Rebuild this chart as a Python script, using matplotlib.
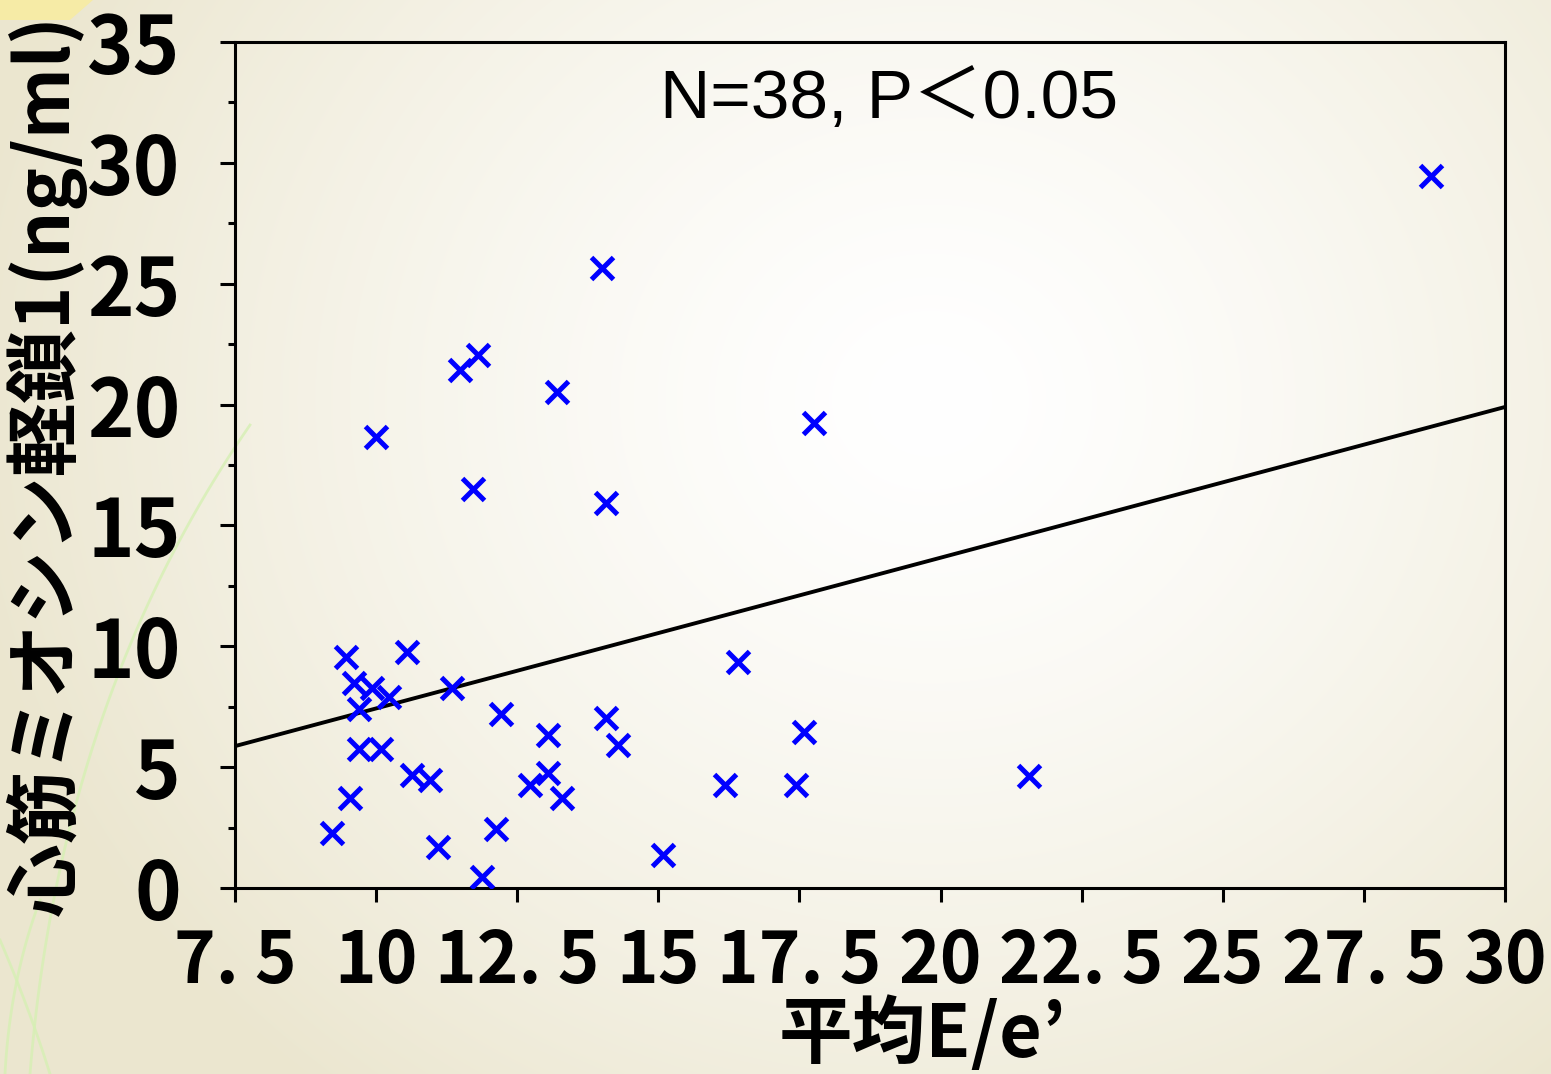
import numpy as np
import matplotlib
matplotlib.use("Agg")
import matplotlib.pyplot as plt
from matplotlib.ticker import FixedLocator, FixedFormatter, MultipleLocator

# mean E/e' vs cardiac myosin light chain 1 (ng/ml), N=38
ee_ratio = [9.22, 9.54, 9.46, 10.55, 9.60, 9.93, 10.23, 9.70, 11.34, 12.21,
            9.70, 10.09, 10.63, 10.96, 11.10, 12.12, 11.88, 12.73, 13.05, 13.30,
            14.29, 13.05, 15.09, 14.00, 11.81, 11.49, 13.21, 11.72, 14.07, 10.00,
            14.08, 16.41, 17.76, 16.18, 17.44, 17.58, 21.57, 28.69]
mlc1 = [2.26, 3.71, 9.57, 9.75, 8.47, 8.26, 7.89, 7.39, 8.26, 7.19,
        5.74, 5.74, 4.68, 4.47, 1.71, 2.43, 0.47, 4.26, 4.74, 3.71,
        5.92, 6.33, 1.37, 25.64, 22.05, 21.43, 20.50, 16.50, 15.94, 18.66,
        7.02, 9.35, 19.24, 4.26, 4.26, 6.45, 4.63, 29.46]

# regression line
fit_x = [7.5, 30.0]
fit_y = [5.87, 19.90]

x_ticks = [7.5, 10, 12.5, 15, 17.5, 20, 22.5, 25, 27.5, 30]
x_tick_labels = ["7. 5", "10", "12. 5", "15", "17. 5", "20", "22. 5", "25", "27. 5", "30"]
y_ticks = [0, 5, 10, 15, 20, 25, 30, 35]
y_tick_labels = [str(v) for v in y_ticks]

CJK = ["Noto Sans CJK JP", "DejaVu Sans"]

W, H = 1551, 1074
fig = plt.figure(figsize=(W / 100, H / 100), dpi=100)

# slide background: beige with a soft white glow
bg = fig.add_axes([0, 0, 1, 1], zorder=-10)
yy, xx = np.mgrid[0:H, 0:W]
r = np.hypot(xx - 930, (yy - 400) * 1.1) / 980
t = np.clip(r, 0, 1) ** 1.4
edge = np.array([0.922, 0.902, 0.812])
img = 1 - t[..., None] * (1 - edge)
bg.imshow(img, extent=[0, W, H, 0], aspect="auto", interpolation="bilinear")
bg.fill([0, 93, 70, 0], [0, 0, 20, 20], color="#F6EBA6", lw=0)
s = np.linspace(0, 1, 60)
for (x0, y0), (x1, y1), (x2, y2) in [((250, 425), (60, 700), (30, 1074)),
                                     ((0, 940), (30, 1010), (50, 1074)),
                                     ((40, 900), (10, 980), (5, 1074))]:
    bx = (1 - s) ** 2 * x0 + 2 * (1 - s) * s * x1 + s ** 2 * x2
    by = (1 - s) ** 2 * y0 + 2 * (1 - s) * s * y1 + s ** 2 * y2
    bg.plot(bx, by, color="#D6F0B4", lw=2, alpha=0.8)
bg.set_xlim(0, W)
bg.set_ylim(H, 0)
bg.axis("off")

ax = fig.add_axes([235 / W, 1 - 888 / H, 1270 / W, 846 / H])
ax.patch.set_alpha(0)

ax.plot(fit_x, fit_y, color="black", lw=2.8, zorder=2)
ax.plot(ee_ratio, mlc1, "x", color="#0000FF", ms=16, mew=3.6, zorder=3)

ax.set_xlim(7.5, 30)
ax.set_ylim(0, 35)
ax.xaxis.set_major_locator(FixedLocator(x_ticks))
ax.xaxis.set_major_formatter(FixedFormatter(x_tick_labels))
ax.yaxis.set_major_locator(FixedLocator(y_ticks))
ax.yaxis.set_major_formatter(FixedFormatter(y_tick_labels))
ax.yaxis.set_minor_locator(MultipleLocator(2.5))

for sp in ax.spines.values():
    sp.set_linewidth(2.2)
    sp.set_color("black")

ax.tick_params(axis="x", which="major", direction="out", length=10, width=2.2, pad=17)
ax.tick_params(axis="y", which="major", direction="out", length=11, width=2.2, pad=28)
ax.tick_params(axis="y", which="minor", direction="out", length=5, width=2.2)
for lab in ax.get_xticklabels():
    lab.set_family(CJK)
    lab.set_fontweight("bold")
    lab.set_fontsize(51)
for lab in ax.get_yticklabels():
    lab.set_family(CJK)
    lab.set_fontweight("bold")
    lab.set_fontsize(57)

ax.text(0.515, 0.932, "N=38, P＜0.05", transform=ax.transAxes, ha="center", va="center",
        fontsize=50, family=["Liberation Sans", "Noto Sans CJK JP"])

fig.text(46 / W, 1 - 465 / H, "心筋ミオシン軽鎖1(ng/ml)", rotation=90, ha="center",
         va="center", fontsize=53, fontweight="bold", family=CJK)
fig.text(922 / W, 1 - 1035 / H, "平均E/e’", ha="center", va="center",
         fontsize=53, fontweight="bold", family=CJK)

fig.savefig("out.png", dpi=100)
